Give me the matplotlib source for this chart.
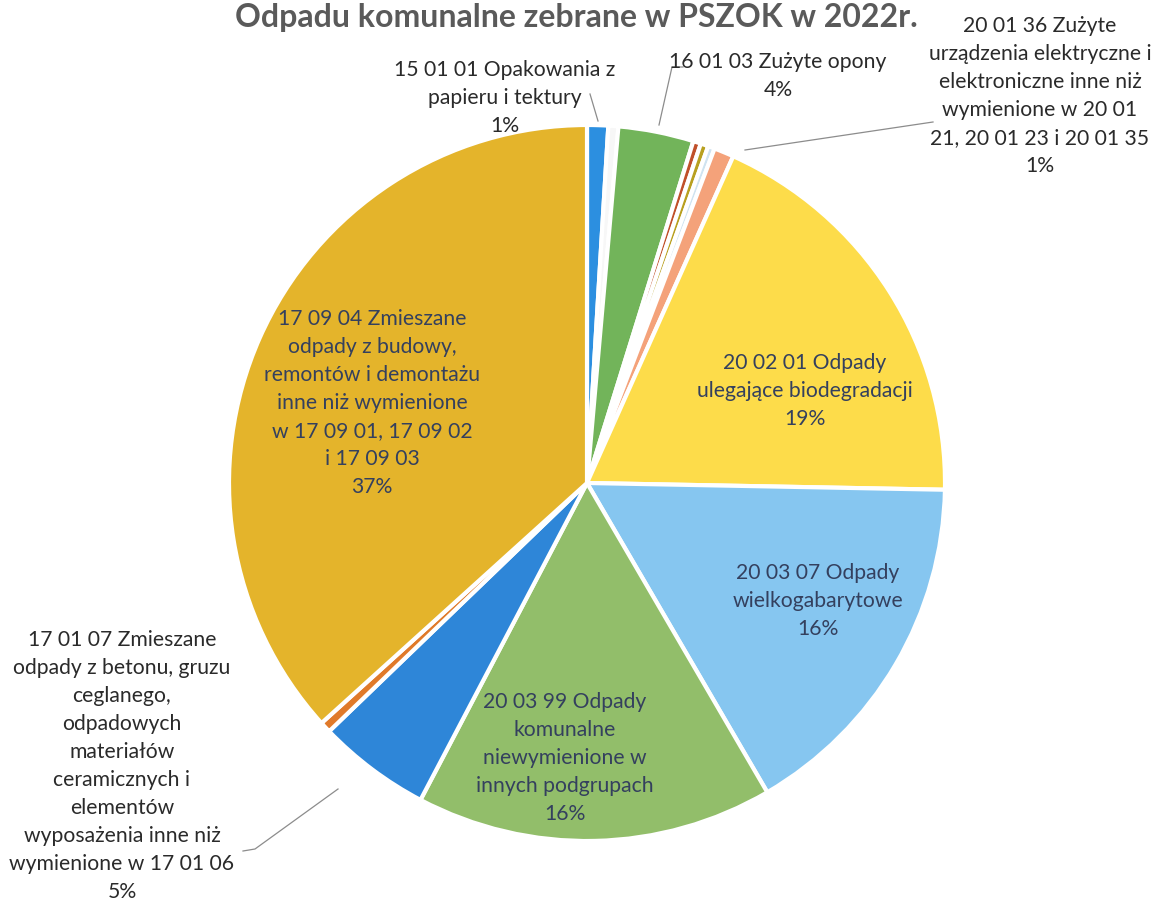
import matplotlib.pyplot as plt

# shares (percent of the whole), clockwise from 12 o'clock
names = ["15 01 01", "biale", "16 01 03", "brazowe", "oliwkowe", "jasne", "20 01 36",
         "20 02 01", "20 03 07", "20 03 99", "17 01 07", "pomaranczowe", "17 09 04"]
shares = [0.95, 0.45, 3.4, 0.35, 0.35, 0.3, 0.9, 18.6, 16.3, 16.1, 5.1, 0.5, 36.7]
colors = ["#2C8FE0", "#F7F7F7", "#72B45A", "#C0502A", "#B8A020", "#CFE3F0", "#F4A27A",
          "#FDDC4A", "#86C6F0", "#92BE6A", "#2E86D8", "#E07A2A", "#E4B42B"]

inner_labels = {
    "17 09 04": "17 09 04 Zmieszane\nodpady z budowy,\nremontów i demontażu\ninne niż wymienione\nw 17 09 01, 17 09 02\ni 17 09 03\n37%",
    "20 02 01": "20 02 01 Odpady\nulegające biodegradacji\n19%",
    "20 03 07": "20 03 07 Odpady\nwielkogabarytowe\n16%",
    "20 03 99": "20 03 99 Odpady\nkomunalne\nniewymienione w\ninnych podgrupach\n16%",
}
outer_labels = {
    "15 01 01": "15 01 01 Opakowania z\npapieru i tektury\n1%",
    "16 01 03": "16 01 03 Zużyte opony\n4%",
    "20 01 36": "20 01 36 Zużyte\nurządzenia elektryczne i\nelektroniczne inne niż\nwymienione w 20 01\n21, 20 01 23 i 20 01 35\n1%",
    "17 01 07": "17 01 07 Zmieszane\nodpady z betonu, gruzu\nceglanego,\nodpadowych\nmateriałów\nceramicznych i\nelementów\nwyposażenia inne niż\nwymienione w 17 01 06\n5%",
}

title = "Odpadu komunalne zebrane w PSZOK w 2022r."

plt.rcParams['font.family'] = ['Lato', 'DejaVu Sans']

fig = plt.figure(figsize=(11.61, 9.06), dpi=100)
W, H = 1161, 906
cx, cy, R = 587, 483, 358
ax = fig.add_axes([(cx - R) / W, (H - cy - R) / H, 2 * R / W, 2 * R / H])

ax.pie(shares, colors=colors, startangle=90, counterclock=False, radius=1,
       wedgeprops=dict(edgecolor="white", linewidth=3))
ax.set_xlim(-1, 1)
ax.set_ylim(-1, 1)
ax.set_aspect("equal")
ax.axis("off")


def px(x, y):
    # pixel position in the picture -> data coords of the pie axes
    return (x - cx) / R, (cy - y) / R


fs = 15.2
lsp = 1.5

inner_pos = {"17 09 04": (372, 403), "20 02 01": (805, 391),
             "20 03 07": (818, 601), "20 03 99": (565, 758)}
for k, txt in inner_labels.items():
    ax.text(*px(*inner_pos[k]), txt, ha="center", va="center", fontsize=fs,
            color="#34405E", linespacing=lsp)

outer_pos = {"15 01 01": (505, 98), "16 01 03": (778, 76),
             "20 01 36": (1040, 96), "17 01 07": (122, 766)}
for k, txt in outer_labels.items():
    ax.text(*px(*outer_pos[k]), txt, ha="center", va="center", fontsize=fs,
            color="#2A2A2A", linespacing=lsp, clip_on=False)

# leader lines
leaders = [
    [(590, 94), (598, 121)],
    [(683, 67), (672, 67), (659, 125)],
    [(933, 122), (745, 150)],
    [(243, 851), (255, 849), (338, 789)],
]
for pts in leaders:
    xs, ys = zip(*[px(*p) for p in pts])
    ax.plot(xs, ys, color="#8C8C8C", lw=0.9, clip_on=False)

fig.text(576 / W, 1 - 3 / H, title, ha="center", va="top", fontsize=23,
         fontweight="bold", color="#5A5A5A")

fig.savefig("out.png", dpi=100)
